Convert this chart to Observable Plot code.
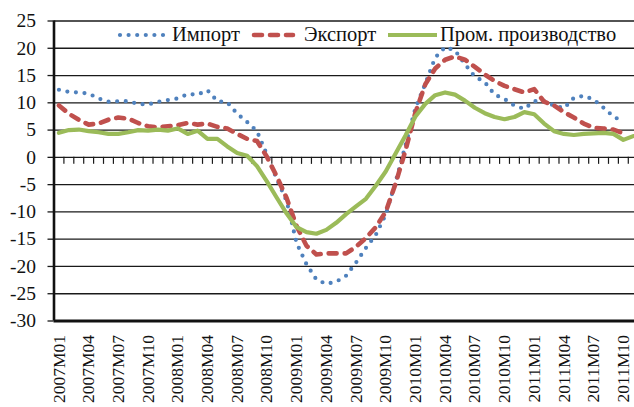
<!DOCTYPE html>
<html><head><meta charset="utf-8">
<script src="https://cdn.jsdelivr.net/npm/d3@7"></script>
<script src="https://cdn.jsdelivr.net/npm/@observablehq/plot@0.6"></script>
<style>
html,body{margin:0;padding:0;background:#fff;}
#wrap{position:relative;width:634px;height:407px;overflow:hidden;font-family:"Liberation Serif",serif;}
#wrap svg{display:block;}
#legend{position:absolute;left:0;top:0;}
</style></head>
<body><div id="wrap"></div>
<script>
const months = ["2007M01","2007M02","2007M03","2007M04","2007M05","2007M06","2007M07","2007M08","2007M09","2007M10","2007M11","2007M12",
"2008M01","2008M02","2008M03","2008M04","2008M05","2008M06","2008M07","2008M08","2008M09","2008M10","2008M11","2008M12",
"2009M01","2009M02","2009M03","2009M04","2009M05","2009M06","2009M07","2009M08","2009M09","2009M10","2009M11","2009M12",
"2010M01","2010M02","2010M03","2010M04","2010M05","2010M06","2010M07","2010M08","2010M09","2010M10","2010M11","2010M12",
"2011M01","2011M02","2011M03","2011M04","2011M05","2011M06","2011M07","2011M08","2011M09","2011M10","2011M11"];
const tickLabels = ["2007M01","2007M04","2007M07","2007M10","2008M01","2008M04","2008M07","2008M10","2009M01","2009M04","2009M07","2009M10","2010M01","2010M04","2010M07","2010M10","2011M01","2011M04","2011M07","2011M10"];
const yTicks = [-30,-25,-20,-15,-10,-5,0,5,10,15,20,25];
const seriesNames = ["Импорт","Экспорт","Пром. производство"];
const seriesColors = ["#4F81BD","#C0504D","#9BBB59"];

const importVals = [12.4,12.0,11.9,11.7,10.8,10.2,10.3,10.3,9.8,9.7,
 10.2,10.5,10.8,11.6,11.5,12.3,10.3,10.1,8.0,6.5,
 4.8,0.5,-4.0,-8.0,-15.7,-19.6,-22.4,-23.2,-22.8,-21.7,
 -19.3,-16.6,-14.2,-10.5,-4.5,2.2,9.0,13.5,18.3,20.2,
 19.6,17.1,14.8,13.8,11.5,10.7,9.5,8.9,10.3,10.3,
 9.5,9.0,10.9,11.3,10.6,9.1,7.5,6.5];
const exportVals = [9.5,8.0,6.9,6.0,6.2,6.9,7.3,7.1,6.3,5.7,
 5.5,5.7,5.9,6.3,6.0,6.2,5.6,5.3,4.3,3.4,
 3.0,0.1,-3.5,-7.5,-12.6,-16.2,-17.8,-17.6,-17.6,-17.6,
 -16.4,-14.8,-12.8,-10.0,-4.8,1.3,8.2,13.4,16.3,17.9,
 18.5,17.9,16.6,15.2,14.0,13.1,12.5,11.9,12.5,10.2,
 9.5,8.3,7.3,6.2,5.4,5.3,5.1,4.4];
const prodVals = [4.5,5.0,5.1,4.8,4.6,4.3,4.3,4.6,5.0,4.9,
 5.1,4.9,5.3,4.3,4.9,3.4,3.4,2.0,0.8,0.3,
 -1.6,-4.4,-7.4,-10.3,-12.8,-13.7,-14.0,-13.3,-12.0,-10.4,
 -9.0,-7.6,-5.2,-2.6,0.7,4.0,7.5,9.8,11.4,11.9,
 11.5,10.4,9.1,8.1,7.4,7.0,7.4,8.3,7.9,6.2,
 4.8,4.3,4.1,4.3,4.4,4.5,4.3,3.2,3.9];

const toRows = vals => vals.map((v, i) => ({i, v}));
const imp = toRows(importVals), exp = toRows(exportVals), prod = toRows(prodVals);

const W = 634, H = 407, mTop = 20.5, mBottom = 86.5, mLeft = 53.5;
const plotH = H - mTop - mBottom;
const zeroDy = -(0 - yTicks[0]) / (yTicks[yTicks.length-1] - yTicks[0]) * plotH;
const labelIdx = tickLabels.map(l => months.indexOf(l));
const boundaries = months.slice(1).map((_, k) => k + 0.5);
const font = "Liberation Serif";

const chart = Plot.plot({
  width: W, height: H,
  marginTop: mTop, marginBottom: mBottom, marginLeft: mLeft, marginRight: 0,
  style: {fontFamily: font, background: "#fff", overflow: "hidden"},
  x: {type: "linear", domain: [-0.5, months.length - 0.5], range: [mLeft, 637.7]},
  y: {domain: [yTicks[0], yTicks[yTicks.length-1]]},
  marks: [
    Plot.ruleY(yTicks.slice(1), {stroke: "#1a1a1a", strokeWidth: 1.3}),
    Plot.axisY({ticks: yTicks, tickSize: 6, tickPadding: 12, tickFormat: d => String(d), fontSize: 19.5, fill: "#111", stroke: "#1a1a1a", strokeWidth: 1.3, label: null}),
    Plot.axisX({ticks: boundaries, tickSize: 7, tickFormat: () => "", dy: zeroDy, stroke: "#1a1a1a", strokeWidth: 1.2, label: null}),
    Plot.axisX({ticks: labelIdx, tickSize: 0, tickPadding: 14, tickRotate: -90, tickFormat: i => months[i], fontSize: 17.5, fill: "#111", label: null}),
    Plot.ruleX([-0.5], {stroke: "#111", strokeWidth: 2.6}),
    Plot.ruleY([yTicks[0]], {stroke: "#111", strokeWidth: 3}),
    Plot.line(imp, {x: "i", y: "v", stroke: seriesColors[0], strokeWidth: 4.2, strokeDasharray: "0 8.6", strokeLinecap: "round"}),
    Plot.line(exp, {x: "i", y: "v", stroke: seriesColors[1], strokeWidth: 4.6, strokeDasharray: "8 8", strokeLinecap: "round"}),
    Plot.line(prod, {x: "i", y: "v", stroke: seriesColors[2], strokeWidth: 4.2})
  ]
});
const wrap = document.getElementById("wrap");
wrap.appendChild(chart);

// legend overlay
const ns = "http://www.w3.org/2000/svg";
const leg = document.createElementNS(ns, "svg");
leg.setAttribute("id", "legend");
leg.setAttribute("width", W); leg.setAttribute("height", 60);
const items = [
  {x1: 120, x2: 165, tx: 172, dash: "0 8.6", w: 4.2, cap: "round"},
  {x1: 254, x2: 293, tx: 304, dash: "8 8", w: 4.6, cap: "round"},
  {x1: 388, x2: 437, tx: 440, dash: null, w: 4.2, cap: "butt"}
];
items.forEach((it, k) => {
  const ln = document.createElementNS(ns, "line");
  ln.setAttribute("x1", it.x1); ln.setAttribute("x2", it.x2);
  ln.setAttribute("y1", 35); ln.setAttribute("y2", 35);
  ln.setAttribute("stroke", seriesColors[k]); ln.setAttribute("stroke-width", it.w);
  ln.setAttribute("stroke-linecap", it.cap);
  if (it.dash) ln.setAttribute("stroke-dasharray", it.dash);
  leg.appendChild(ln);
  const t = document.createElementNS(ns, "text");
  t.setAttribute("x", it.tx); t.setAttribute("y", 41);
  t.setAttribute("font-family", font); t.setAttribute("font-size", 20.5);
  t.setAttribute("fill", "#111");
  t.textContent = seriesNames[k];
  leg.appendChild(t);
});
wrap.appendChild(leg);
</script>
</body></html>
